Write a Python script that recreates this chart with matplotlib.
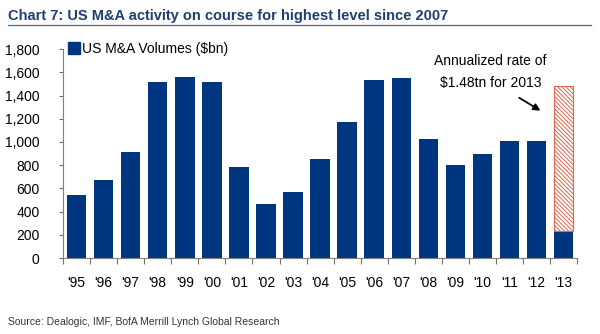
import numpy as np
import matplotlib.pyplot as plt
from matplotlib.lines import Line2D

years = ["'95", "'96", "'97", "'98", "'99", "'00", "'01", "'02", "'03", "'04",
         "'05", "'06", "'07", "'08", "'09", "'10", "'11", "'12", "'13"]
volumes = [540, 670, 910, 1515, 1560, 1520, 785, 465, 570, 850,
           1175, 1535, 1555, 1025, 805, 900, 1005, 1005, 230]
annualized_2013 = 1480

plt.rcParams['font.family'] = ['Liberation Sans', 'DejaVu Sans']

navy = '#003580'
hatch_col = '#E0674F'

fig = plt.figure(figsize=(6, 3.34), dpi=100)
ax = fig.add_axes([0.105, 0.2275, 0.857, 0.6255])

x = np.arange(len(years))
ax.bar(x, volumes, width=0.72, color=navy, zorder=2)
# hatched top for the annualized 2013 estimate
plt.rcParams['hatch.color'] = hatch_col
plt.rcParams['hatch.linewidth'] = 0.7
ax.bar(x[-1], annualized_2013 - volumes[-1], bottom=volumes[-1], width=0.72,
       facecolor='white', edgecolor=hatch_col, hatch='\\' * 8, linewidth=0.8, zorder=2)

ax.set_xlim(-0.5, len(years) - 0.5)
ax.set_ylim(0, 1800)
ax.set_yticks(range(0, 1801, 200))
ax.set_yticklabels([f'{v:,}' for v in range(0, 1801, 200)], fontsize=10)
ax.set_xticks(np.arange(-0.5, len(years), 1.0))
ax.set_xticklabels([])
ax.set_xticks(x, minor=True)
ax.set_xticklabels(years, minor=True, fontsize=10)
ax.tick_params(axis='x', which='minor', length=0, pad=13)
ax.tick_params(axis='x', which='major', length=4, color='#707070', direction='out')
ax.tick_params(axis='y', length=3, color='#707070', direction='out', pad=14)

for s in ['top', 'right']:
    ax.spines[s].set_visible(False)
for s in ['left', 'bottom']:
    ax.spines[s].set_color('#808080')
    ax.spines[s].set_linewidth(0.8)

handle = Line2D([], [], marker='s', color=navy, linestyle='none', markersize=8)
ax.legend([handle], ['US M&A Volumes ($bn)'], loc='upper left', bbox_to_anchor=(0.0, 1.06),
          frameon=False, fontsize=10, handletextpad=0.2, borderaxespad=0, handlelength=0.8)

ax.text(15.3, 1697, 'Annualized rate of', ha='center', va='center', fontsize=10)
ax.text(15.3, 1507, '$1.48tn for 2013', ha='center', va='center', fontsize=10)
ax.annotate('', xy=(17.23, 1257), xytext=(16.27, 1393),
            arrowprops=dict(arrowstyle='-|>', color='black', lw=1.3, mutation_scale=10))

fig.text(0.013, 0.952, 'Chart 7: US M&A activity on course for highest level since 2007',
         fontsize=10.5, fontweight='bold', color='#1F3F73', va='center', ha='left')
fig.add_artist(Line2D([0.013, 0.985], [0.925, 0.925], color='#4A6A96', linewidth=0.9))
fig.text(0.013, 0.035, 'Source: Dealogic, IMF, BofA Merrill Lynch Global Research',
         fontsize=7.5, color='#333333', va='center', ha='left')

fig.savefig('out.png', dpi=100)
